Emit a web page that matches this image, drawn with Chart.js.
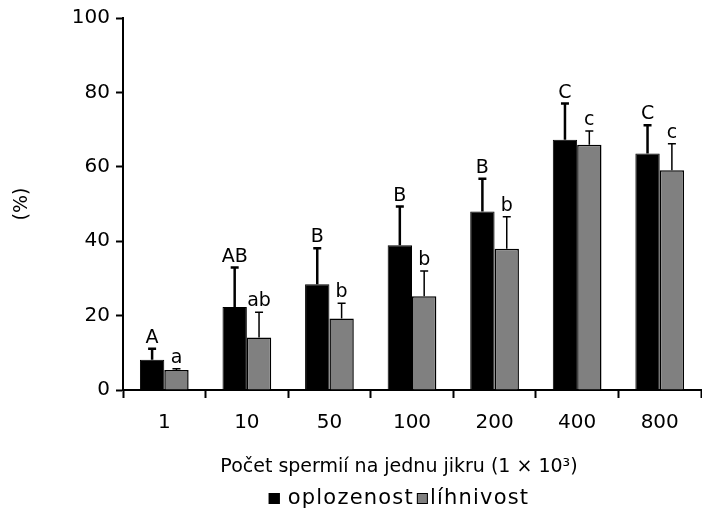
<!DOCTYPE html>
<html>
<head>
<meta charset="utf-8">
<script src="https://cdn.jsdelivr.net/npm/chart.js@4.4.0/dist/chart.umd.min.js"></script>
<style>
  html, body { margin: 0; padding: 0; background: #fff; }
  #wrap { width: 702px; height: 510px; }
</style>
</head>
<body>
<div id="wrap"><canvas id="chart" width="702" height="510"></canvas></div>
<script>
// categories and values
const categories = ['1', '10', '50', '100', '200', '400', '800'];
const oplozenost = [8.1, 22.3, 28.4, 38.9, 48.0, 67.3, 63.6];
const oplozenostErr = [3.0, 10.6, 9.7, 10.4, 8.8, 9.7, 7.6];
const oplozenostLetters = ['A', 'AB', 'B', 'B', 'B', 'C', 'C'];
const lihnivost = [5.4, 14.1, 19.2, 25.2, 38.0, 65.9, 59.1];
const lihnivostErr = [0.3, 6.8, 4.1, 6.8, 8.6, 3.7, 7.1];
const lihnivostLetters = ['a', 'ab', 'b', 'b', 'b', 'c', 'c'];
const yTicks = [0, 20, 40, 60, 80, 100];
const xTitle = 'Počet spermií na jednu jikru (1 × 10³)';

const FONT = "'DejaVu Sans', sans-serif";

// upward-only error bars with a cap, plus the letter above each one
const errorBars = {
  id: 'errorBars',
  afterDatasetsDraw(chart) {
    const ctx = chart.ctx;
    const y = chart.scales.y;
    const errs = [oplozenostErr, lihnivostErr];
    const letters = [oplozenostLetters, lihnivostLetters];
    ctx.save();
    ctx.letterSpacing = '0px';
    chart.data.datasets.forEach((ds, di) => {
      const meta = chart.getDatasetMeta(di);
      meta.data.forEach((bar, i) => {
        const top = y.getPixelForValue(ds.data[i] + errs[di][i]);
        ctx.strokeStyle = '#000';
        ctx.lineWidth = di === 0 ? 2.5 : 1.5;
        ctx.beginPath();
        ctx.moveTo(bar.x, bar.y);
        ctx.lineTo(bar.x, top);
        ctx.moveTo(bar.x - 4, top);
        ctx.lineTo(bar.x + 4, top);
        ctx.stroke();
        ctx.fillStyle = '#000';
        ctx.font = '19px ' + FONT;
        ctx.textAlign = 'center';
        ctx.textBaseline = 'alphabetic';
        ctx.fillText(letters[di][i], bar.x, top - 6);
      });
    });
    ctx.restore();
  }
};

// x title and legend sit a bit left of the plot centre in the original
const bottomTexts = {
  id: 'bottomTexts',
  afterDraw(chart) {
    const ctx = chart.ctx;
    const area = chart.chartArea;
    const cx = (area.left + area.right) / 2 - 13;
    ctx.save();
    ctx.letterSpacing = '0px';
    ctx.fillStyle = '#000';
    ctx.font = '19px ' + FONT;
    ctx.textAlign = 'center';
    ctx.textBaseline = 'alphabetic';
    ctx.fillText(xTitle, cx, area.bottom + 82);

    // legend
    ctx.font = '21px ' + FONT;
    ctx.letterSpacing = '1.2px';
    ctx.textAlign = 'left';
    const box = 11;
    const items = chart.data.datasets.map(ds => ({
      label: ds.label, fill: ds.backgroundColor, w: ctx.measureText(ds.label).width
    }));
    const gapAfterBox = [8, 2];
    const gapBetween = 3;
    let total = 0;
    items.forEach((it, k) => { total += box + gapAfterBox[k] + it.w; });
    total += gapBetween;
    let x = cx - total / 2;
    const base = area.bottom + 114;
    items.forEach((it, k) => {
      ctx.fillStyle = it.fill;
      ctx.fillRect(x, base - 11, box, box);
      ctx.strokeStyle = '#000';
      ctx.lineWidth = 1;
      ctx.strokeRect(x + 0.5, base - 10.5, box - 1, box - 1);
      x += box + gapAfterBox[k];
      ctx.fillStyle = '#000';
      ctx.fillText(it.label, x, base);
      x += it.w + gapBetween;
    });
    ctx.letterSpacing = '0px';
    ctx.restore();
  }
};

new Chart(document.getElementById('chart'), {
  type: 'bar',
  data: {
    labels: categories,
    datasets: [
      {
        label: 'oplozenost',
        data: oplozenost,
        backgroundColor: '#000000',
        borderColor: '#000000',
        borderWidth: 1
      },
      {
        label: 'líhnivost',
        data: lihnivost,
        backgroundColor: '#808080',
        borderColor: '#000000',
        borderWidth: 1.5
      }
    ]
  },
  options: {
    responsive: false,
    animation: false,
    layout: { padding: { top: 16, right: 1, left: 0, bottom: 0 } },
    datasets: {
      bar: { categoryPercentage: 0.59, barPercentage: 1 }
    },
    plugins: {
      legend: { display: false },
      tooltip: { enabled: false }
    },
    scales: {
      x: {
        offset: true,
        grid: {
          offset: true,
          drawOnChartArea: false,
          drawTicks: true,
          tickLength: 8,
          tickWidth: 2,
          tickColor: '#000'
        },
        border: { display: true, color: '#000', width: 2 },
        ticks: {
          color: '#000',
          font: { family: FONT, size: 20 },
          padding: 13
        },
        afterFit(scale) { scale.height = 120; }
      },
      y: {
        min: 0,
        max: 100,
        afterBuildTicks(scale) { scale.ticks = yTicks.map(v => ({ value: v })); },
        grid: {
          drawOnChartArea: false,
          drawTicks: true,
          tickLength: 7,
          tickWidth: 2,
          tickColor: '#000'
        },
        border: { display: true, color: '#000', width: 2 },
        ticks: {
          color: '#000',
          font: { family: FONT, size: 20 },
          padding: 6
        },
        title: {
          display: true,
          text: '(%)',
          color: '#000',
          font: { family: FONT, size: 19 },
          padding: { top: 11, bottom: 0 }
        },
        afterFit(scale) { scale.width = 123; }
      }
    }
  },
  plugins: [errorBars, bottomTexts]
});
</script>
</body>
</html>
